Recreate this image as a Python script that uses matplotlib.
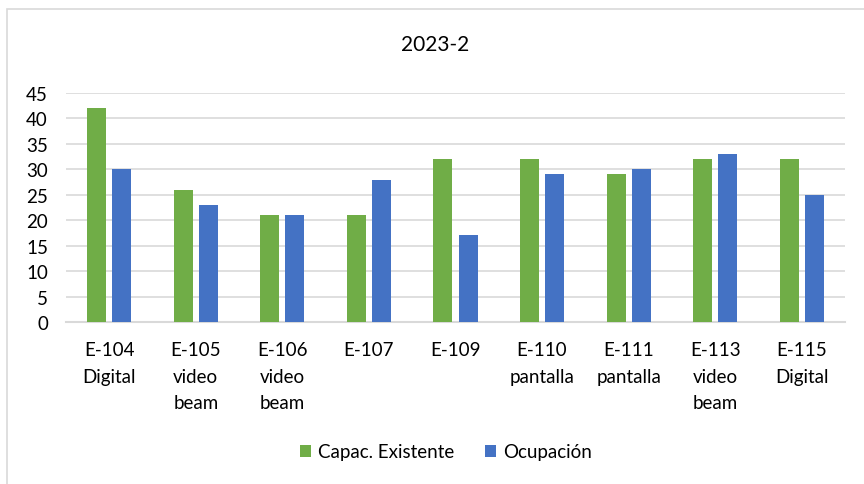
import matplotlib
matplotlib.use("Agg")
import matplotlib.pyplot as plt
import numpy as np
from matplotlib.patches import Rectangle

categories = ["E-104\nDigital", "E-105\nvideo\nbeam", "E-106\nvideo\nbeam", "E-107", "E-109",
              "E-110\npantalla", "E-111\npantalla", "E-113\nvideo\nbeam", "E-115\nDigital"]
capacidad = [42, 26, 21, 21, 32, 32, 29, 32, 32]
ocupacion = [30, 23, 21, 28, 17, 29, 30, 33, 25]
yticks = [0, 5, 10, 15, 20, 25, 30, 35, 40, 45]

plt.rcParams['font.family'] = ['Lato', 'DejaVu Sans']

fig = plt.figure(figsize=(8.64, 4.85), dpi=100)
ax = fig.add_axes([66/864, 1-323/485, (845-66)/864, (323-94)/485])

x = np.arange(len(categories))
w = 0.22
off = 0.145
green = '#70AD47'
blue = '#4472C4'
ax.bar(x - off, capacidad, w, color=green, label='Capac. Existente', zorder=3)
ax.bar(x + off, ocupacion, w, color=blue, label='Ocupación', zorder=3)

ax.set_xlim(-0.5, len(categories) - 0.5)
ax.set_ylim(0, 45)
ax.set_yticks(yticks)
ax.yaxis.grid(True, color='#D9D9D9', linewidth=1.2, zorder=0)
ax.set_axisbelow(True)
for s in ['top', 'right', 'left']:
    ax.spines[s].set_visible(False)
ax.spines['bottom'].set_color('#D9D9D9')
ax.spines['bottom'].set_linewidth(1.5)
ax.tick_params(axis='y', length=0, pad=13, labelsize=13.5, colors='#000000')
ax.tick_params(axis='x', length=0, pad=14, labelsize=13.5)
ax.set_xticks(x)
ax.set_xticklabels(categories, linespacing=1.65, va='top')

fig.text(435/864, 1-45/485, '2023-2', ha='center', va='center', fontsize=15)

leg = fig.legend(loc='center', bbox_to_anchor=(446/864, 1-453/485), ncol=2, frameon=False,
                 fontsize=13.5, handlelength=0.6, handleheight=0.6, handletextpad=0.4,
                 columnspacing=1.6)

fig.patches.append(Rectangle((7/864, -0.1), 1.0, 1 - 10/485 + 0.1, transform=fig.transFigure,
                             fill=False, edgecolor='#D9D9D9', linewidth=1.2))

fig.savefig('out.png', dpi=100)
